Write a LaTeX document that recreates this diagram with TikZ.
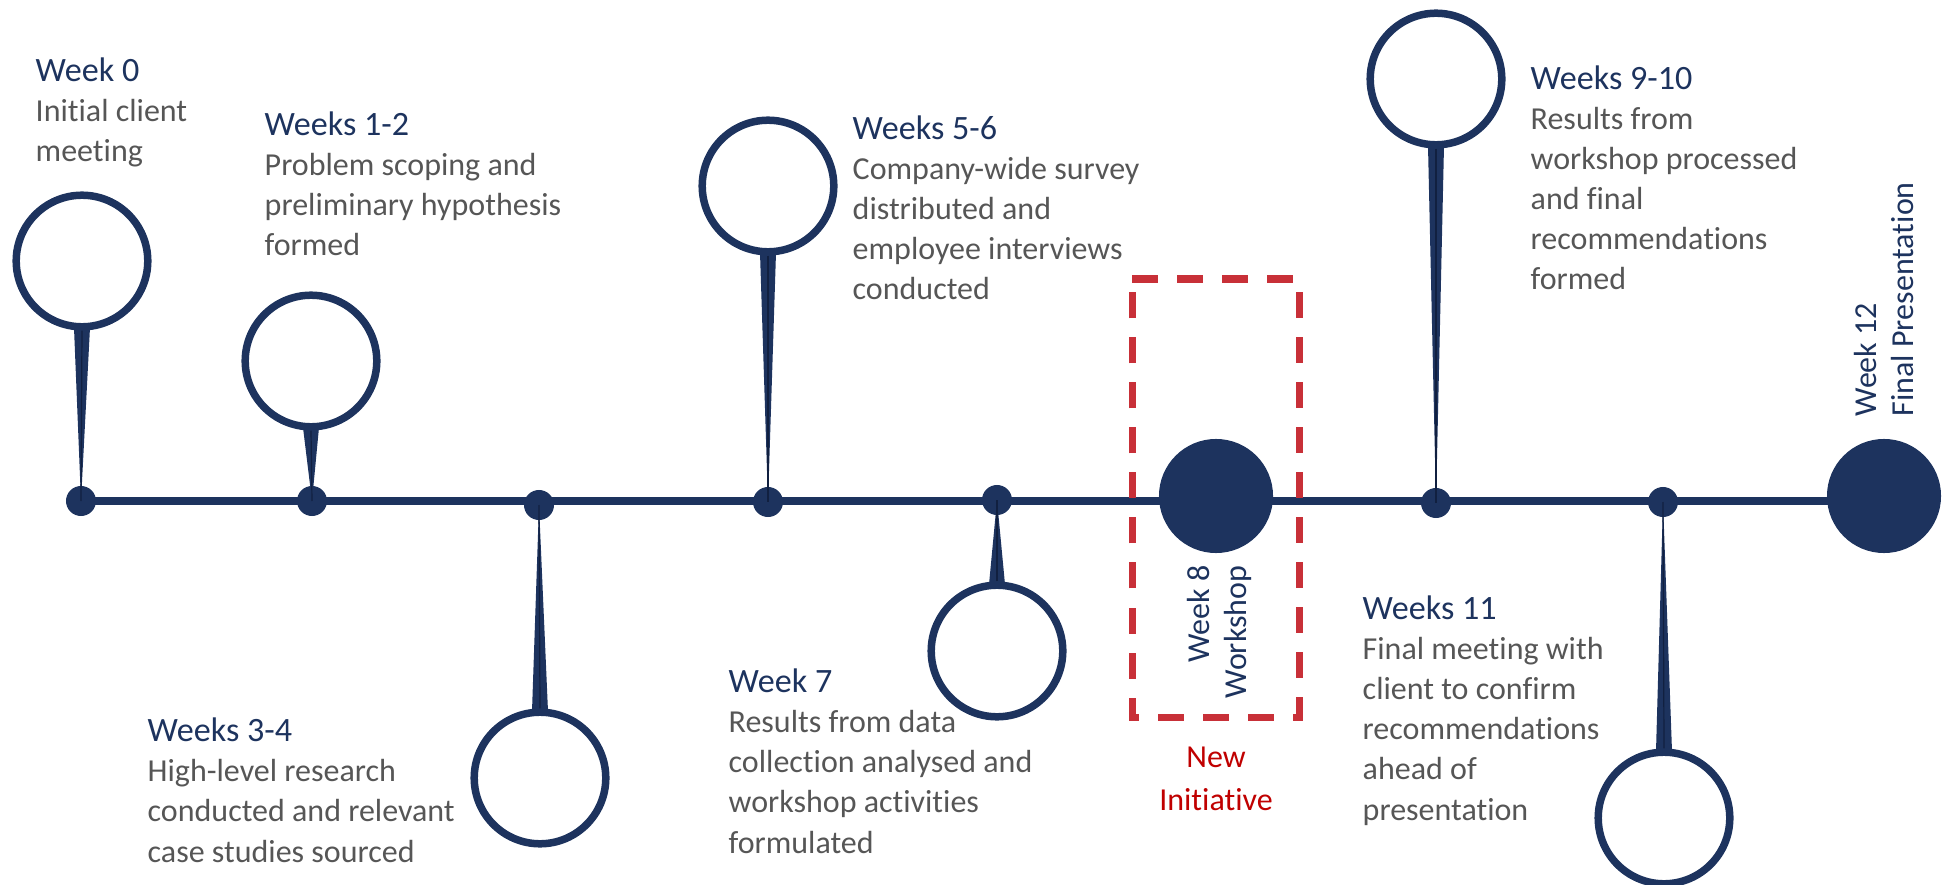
\documentclass[tikz,border=0pt]{standalone}
\usepackage{fontspec}
\setmainfont{Carlito}[Ligatures=NoCommon]
\usepackage{tikz}
\usetikzlibrary{positioning}

\definecolor{navy}{RGB}{29,51,94}
\definecolor{navydark}{RGB}{17,32,64}
\definecolor{textgrey}{RGB}{86,86,86}
\definecolor{dashred}{RGB}{200,48,56}
\definecolor{newred}{RGB}{192,0,0}

% heading line of each text block
\newcommand{\wk}[1]{{\fontsize{9.7}{11.4}\selectfont\color{navy}#1}}

\begin{document}
\begin{tikzpicture}[
        x=0.01cm, y=-0.01cm,
        weekdot/.style={circle, fill=navy, inner sep=0pt, minimum size=0.3cm},
        milestone/.style={circle, fill=navy, inner sep=0pt, minimum size=1.14cm},
        ring/.style={circle, draw=navy, line width=0.075cm, fill=white, inner sep=0pt, minimum size=1.315cm},
        stem/.style={fill=navy},
        stemcore/.style={draw=navydark, line width=0.012cm},
        timeline/.style={draw=navy, line width=0.07cm},
        blurb/.style={align=left, anchor=base west, inner sep=0pt, text=textgrey,
          font=\fontsize{9.1}{11.4}\selectfont},
        vlabel/.style={rotate=90, inner sep=0pt, text=navy, font=\fontsize{9.1}{10.5}\selectfont},
        newbox/.style={draw=dashred, line width=0.07cm, dash pattern=on 0.26cm off 0.19cm},
      ]
      \useasboundingbox (0,0) rectangle (1954,885);

      % dots on the timeline
      \node[weekdot] (d0) at (81,501) {};
      \node[weekdot] (d1) at (312,501) {};
      \node[weekdot] (d2) at (539,505) {};
      \node[weekdot] (d3) at (768,502) {};
      \node[weekdot] (d4) at (997,500) {};
      \node[milestone] (w8) at (1216,496) {};
      \node[weekdot] (d5) at (1436,503) {};
      \node[weekdot] (d6) at (1663,502) {};
      \node[milestone] (w12) at (1884,496) {};
      \draw[timeline] (d0.center) -- (d0.center -| w12.center);

      % pins
      \node[ring] (c0) at (82,261) {};
      \node[ring] (c1) at (311,361) {};
      \node[ring] (c2) at (540,778) {};
      \node[ring] (c3) at (768,186) {};
      \node[ring] (c4) at (997,651) {};
      \node[ring] (c5) at (1436,79) {};
      \node[ring] (c6) at (1664,818) {};

      \fill[stem] ([shift={(-0.08cm,0.03cm)}]c0.south) -- (d0.center) -- ([shift={(0.08cm,0.03cm)}]c0.south) -- cycle;
      \fill[stem] ([shift={(-0.08cm,0.03cm)}]c1.south) -- (d1.center) -- ([shift={(0.08cm,0.03cm)}]c1.south) -- cycle;
      \fill[stem] ([shift={(-0.08cm,-0.03cm)}]c2.north) -- (d2.center) -- ([shift={(0.08cm,-0.03cm)}]c2.north) -- cycle;
      \fill[stem] ([shift={(-0.08cm,0.03cm)}]c3.south) -- (d3.center) -- ([shift={(0.08cm,0.03cm)}]c3.south) -- cycle;
      \fill[stem] ([shift={(-0.08cm,-0.03cm)}]c4.north) -- (d4.center) -- ([shift={(0.08cm,-0.03cm)}]c4.north) -- cycle;
      \fill[stem] ([shift={(-0.08cm,0.03cm)}]c5.south) -- (d5.center) -- ([shift={(0.08cm,0.03cm)}]c5.south) -- cycle;
      \fill[stem] ([shift={(-0.08cm,-0.03cm)}]c6.north) -- (d6.center) -- ([shift={(0.08cm,-0.03cm)}]c6.north) -- cycle;
      \draw[stemcore] (c0.south) -- (d0.center);
      \draw[stemcore] (c1.south) -- (d1.center);
      \draw[stemcore] (c2.north) -- (d2.center);
      \draw[stemcore] (c3.south) -- (d3.center);
      \draw[stemcore] (c4.north) -- (d4.center);
      \draw[stemcore] (c5.south) -- (d5.center);
      \draw[stemcore] (c6.north) -- (d6.center);

      % workshop box
      \draw[newbox] (1132,279) -- (1299,279) -- (1299,717) -- (1132,717) -- cycle;

      % text blocks (placed by the baseline of their last line)
      \node[blurb] (t0) at (35,162) {\wk{Week 0}\\Initial client\\meeting};
      \node[blurb] (t1) at (264,256) {\wk{Weeks 1-2}\\Problem scoping and\\preliminary hypothesis\\formed};
      \node[blurb] (t2) at (147,862) {\wk{Weeks 3-4}\\High-level research\\conducted and relevant\\case studies sourced};
      \node[blurb] (t3) at (852,300) {\wk{Weeks 5-6}\\Company-wide survey\\distributed and\\employee interviews\\conducted};
      \node[blurb] (t4) at (728,853) {\wk{Week 7}\\Results from data\\collection analysed and\\workshop activities\\formulated};
      \node[blurb] (t5) at (1530,290) {\wk{Weeks 9-10}\\Results from\\workshop processed\\and final\\recommendations\\formed};
      \node[blurb] (t6) at (1362,820) {\wk{Weeks 11}\\Final meeting with\\client to confirm\\recommendations\\ahead of\\presentation};

      \node[vlabel, align=right, anchor=north east] (l8) at (1187,565) {Week 8\\Workshop};
      \node[vlabel, align=left, anchor=north west] (l12) at (1854,417) {Week 12\\Final Presentation};
      \node[align=center, inner sep=0pt, anchor=base, text=newred,
        font=\fontsize{9.1}{12.2}\selectfont] (ni) at (1216,810) {New\\Initiative};
\end{tikzpicture}
\end{document}
